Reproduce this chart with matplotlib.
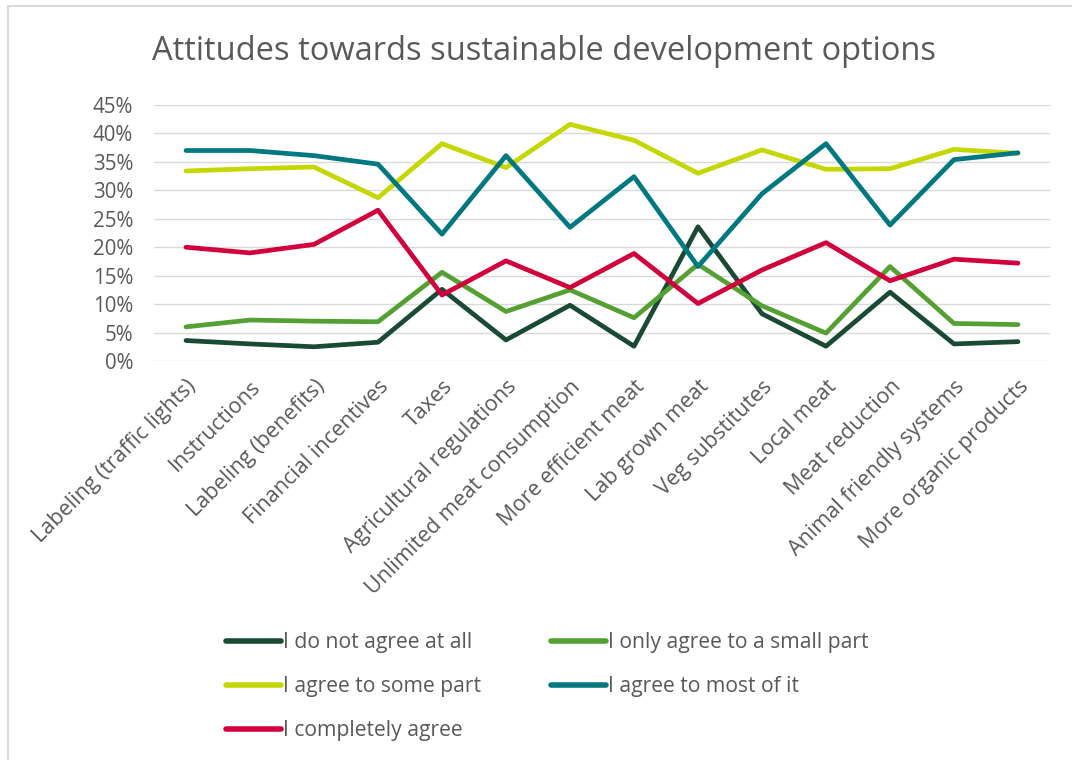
import matplotlib.pyplot as plt
from matplotlib.lines import Line2D

plt.rcParams['font.family'] = ['Open Sans', 'DejaVu Sans']

# categories along the x axis
options = ["Labeling (traffic lights)", "Instructions", "Labeling (benefits)",
           "Financial incentives", "Taxes", "Agricultural regulations",
           "Unlimited meat consumption", "More efficient meat", "Lab grown meat",
           "Veg substitutes", "Local meat", "Meat reduction",
           "Animal friendly systems", "More organic products"]

# share of answers per option, in percent
not_at_all = [3.6, 3.0, 2.5, 3.3, 12.6, 3.7, 9.8, 2.6, 23.6, 8.3, 2.6, 12.1, 3.0, 3.4]
small_part = [6.0, 7.2, 7.0, 6.9, 15.6, 8.7, 12.5, 7.6, 17.0, 9.7, 4.9, 16.6, 6.6, 6.4]
some_part = [33.4, 33.8, 34.1, 28.7, 38.2, 34.0, 41.6, 38.8, 33.0, 37.1, 33.7, 33.8, 37.2, 36.5]
most_of_it = [37.0, 37.0, 36.1, 34.6, 22.3, 36.1, 23.5, 32.4, 16.6, 29.4, 38.2, 23.9, 35.4, 36.6]
completely = [20.0, 19.0, 20.5, 26.5, 11.6, 17.6, 12.9, 18.9, 10.1, 16.0, 20.8, 14.1, 17.9, 17.2]

series = [("I do not agree at all", not_at_all, "#1A4A34"),
          ("I only agree to a small part", small_part, "#55A032"),
          ("I agree to some part", some_part, "#C5D700"),
          ("I agree to most of it", most_of_it, "#00787F"),
          ("I completely agree", completely, "#D1003C")]

yticks = [0, 5, 10, 15, 20, 25, 30, 35, 40, 45]
grey = "#595959"

W, H = 1072, 760
fig = plt.figure(figsize=(W / 100, H / 100), dpi=100)

# chart frame (only the left and top edges show)
fig.add_artist(Line2D([8 / W, 8 / W], [0, 1 - 6 / H], color="#d9d9d9", lw=1.5))
fig.add_artist(Line2D([8 / W, 1], [1 - 6 / H, 1 - 6 / H], color="#d9d9d9", lw=1.5))

ax = fig.add_axes([154 / W, 1 - 361 / H, 896 / W, 256 / H])

xs = [i + 0.5 for i in range(len(options))]
handles = []
for name, vals, col in series:
    h, = ax.plot(xs, vals, color=col, lw=3.4, label=name,
                 solid_capstyle="round", solid_joinstyle="round")
    handles.append(h)

ax.set_xlim(0, len(options))
ax.set_ylim(0, 45)
ax.set_yticks(yticks)
ax.set_yticklabels([f"{v}%" for v in yticks])
ax.set_xticks(xs)
ax.set_xticklabels(options, rotation=45, ha="right", va="top",
                   rotation_mode="anchor")
ax.tick_params(axis="y", length=0, pad=15, labelsize=14.8, labelcolor=grey)
ax.tick_params(axis="x", length=0, pad=11, labelsize=15.5, labelcolor=grey)
for s in ax.spines.values():
    s.set_visible(False)
ax.yaxis.grid(True, color="#d9d9d9", lw=1.0)
ax.set_axisbelow(True)

fig.text(0.507, 1 - 51 / H, "Attitudes towards sustainable development options",
         ha="center", va="center", fontsize=23.5, color=grey)

# legend laid out row by row
order = [0, 2, 4, 1, 3]
leg = fig.legend([handles[i] for i in order], [series[i][0] for i in order],
                 ncol=2, loc="upper left", bbox_to_anchor=(226 / W, 1 - 632 / H),
                 frameon=False, fontsize=15.2, labelcolor=grey, borderpad=0,
                 borderaxespad=0, handlelength=2.6, handletextpad=0.1,
                 labelspacing=1.1, columnspacing=3.3)
for line in leg.get_lines():
    line.set_linewidth(4)
    line.set_solid_capstyle("round")

fig.savefig("out.png", dpi=100)
